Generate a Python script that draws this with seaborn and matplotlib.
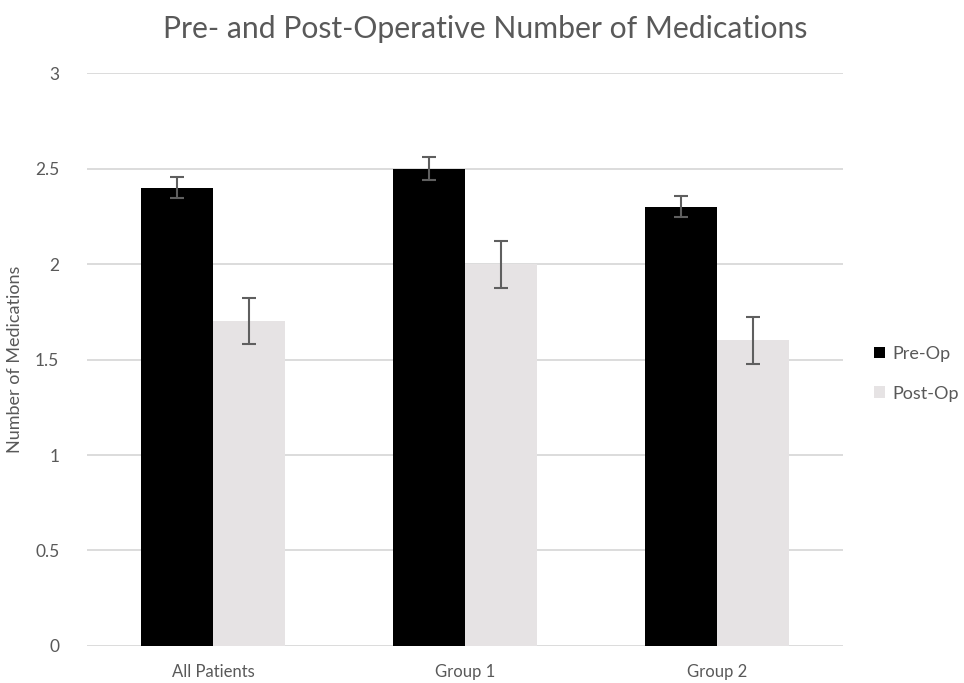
import matplotlib
matplotlib.use("Agg")
import matplotlib.pyplot as plt
import seaborn as sns
import pandas as pd

groups = ["All Patients", "Group 1", "Group 2"]
pre_op = [2.4, 2.5, 2.3]
post_op = [1.7, 2.0, 1.6]
pre_err = [0.055, 0.06, 0.055]
post_err = [0.12, 0.123, 0.122]

df = pd.DataFrame({
    "group": groups * 2,
    "period": ["Pre-Op"] * 3 + ["Post-Op"] * 3,
    "value": pre_op + post_op,
    "err": pre_err + post_err,
})

sns.set_style("white")
plt.rcParams["font.family"] = ["Lato", "DejaVu Sans"]
txt = "#595959"

fig = plt.figure(figsize=(9.64, 6.83), dpi=100)
ax = fig.add_axes([0.0903, 0.0542, 0.7842, 0.8388])

sns.barplot(data=df, x="group", y="value", hue="period",
            palette={"Pre-Op": "#000000", "Post-Op": "#e7e3e4"},
            width=0.57, errorbar=None, linewidth=0, ax=ax, zorder=3)

# error bars at the centres of the drawn bars
bars = [p for p in ax.patches if p.get_height() > 0][:6]
for p, e in zip(bars, df["err"]):
    ax.errorbar(p.get_x() + p.get_width() / 2, p.get_height(), yerr=e,
                color="#5f5f5f", capsize=5, elinewidth=1.5, capthick=1.5, zorder=4)

ax.set_ylim(0, 3)
ax.set_xlim(-0.5, 2.5)
ax.set_yticks([0, 0.5, 1, 1.5, 2, 2.5, 3])
ax.set_yticklabels(["0", "0.5", "1", "1.5", "2", "2.5", "3"])
ax.yaxis.grid(True, color="#d9d9d9", linewidth=1.3, zorder=0)
ax.set_axisbelow(True)
for s in ax.spines.values():
    s.set_visible(False)
ax.tick_params(axis="both", length=0, labelsize=12.5, colors=txt)
ax.tick_params(axis="y", pad=20)
ax.tick_params(axis="x", pad=13, labelsize=12)
ax.set_xlabel("")
ax.set_ylabel("Number of Medications", fontsize=13, color=txt)
ax.yaxis.set_label_coords(-0.085, 0.5)

fig.text(0.503, 0.958, "Pre- and Post-Operative Number of Medications",
         ha="center", va="center", fontsize=21.7, color=txt)

handles, labels = ax.get_legend_handles_labels()
leg = ax.legend(handles, labels, loc="center left", bbox_to_anchor=(1.02, 0.475),
                frameon=False, fontsize=13, labelcolor=txt, handlelength=0.6,
                handleheight=0.6, handletextpad=0.4, labelspacing=1.3)

fig.savefig("out.png", dpi=100)
